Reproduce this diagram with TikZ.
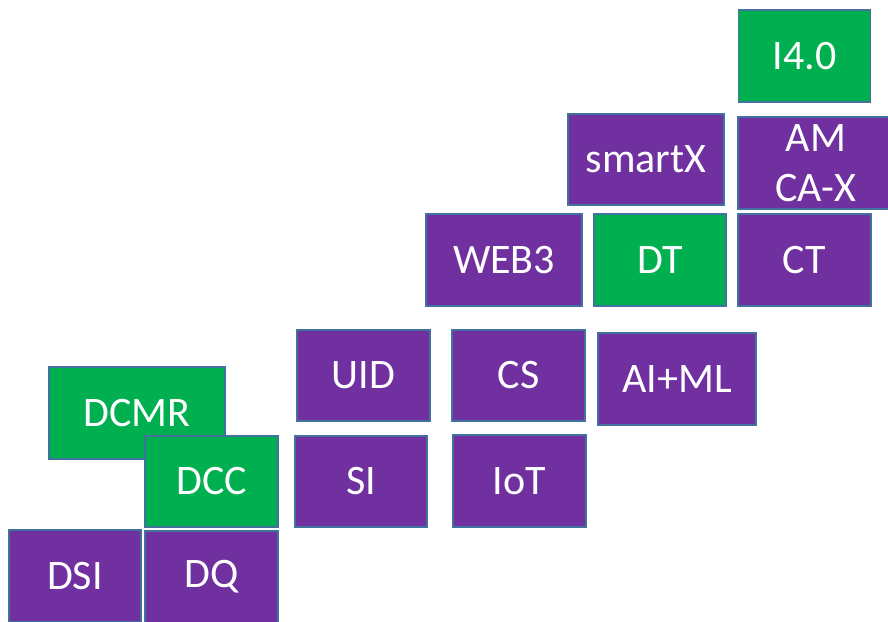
\documentclass[tikz,border=0pt]{standalone}
\usepackage{fontspec}
\setmainfont{Carlito}
\definecolor{pbox}{HTML}{7030A0}
\definecolor{gbox}{HTML}{00B050}
\definecolor{edge}{HTML}{41719C}
\tikzset{
  tile/.style={draw=edge, line width=1.3pt, text=white, inner sep=0pt, align=center,
    font=\fontsize{42}{50}\selectfont},
  ptile/.style={tile, fill=pbox},
  gtile/.style={tile, fill=gbox},
}
\begin{document}
\begin{tikzpicture}[x=1pt,y=-1pt]
\useasboundingbox (0,0) rectangle (888,621);
\node[gtile, minimum width=132pt, minimum height=92pt] (i40) at (804.5,56) {I4.0};
\node[ptile, minimum width=156pt, minimum height=91pt] (smartx) at (646,159.5) {smartX};
\node[ptile, minimum width=156pt, minimum height=92pt] (amcax) at (816,163) {AM\\CA-X};
\node[ptile, minimum width=156pt, minimum height=92pt] (web3) at (504,260) {WEB3};
\node[gtile, minimum width=132pt, minimum height=92pt] (dt) at (660,260) {DT};
\node[ptile, minimum width=133pt, minimum height=92pt] (ct) at (804.5,260) {CT};
\node[ptile, minimum width=133pt, minimum height=91pt] (uid) at (363.5,375.5) {UID};
\node[ptile, minimum width=133pt, minimum height=91pt] (cs) at (518.5,375.5) {CS};
\node[ptile, minimum width=158pt, minimum height=92pt] (aiml) at (677,379) {AI+ML};
\node[gtile, minimum width=176pt, minimum height=92pt] (dcmr) at (137,413) {DCMR};
\node[gtile, minimum width=133pt, minimum height=91pt] (dcc) at (211.5,481.5) {DCC};
\node[ptile, minimum width=132pt, minimum height=91pt] (si) at (361,481.5) {SI};
\node[ptile, minimum width=133pt, minimum height=92pt] (iot) at (519.5,481) {IoT};
\node[ptile, minimum width=132pt, minimum height=92pt] (dsi) at (75,576) {DSI};
\node[ptile, minimum width=133pt, minimum height=92pt] (dq) at (211.5,577) {DQ};
\end{tikzpicture}
\end{document}
